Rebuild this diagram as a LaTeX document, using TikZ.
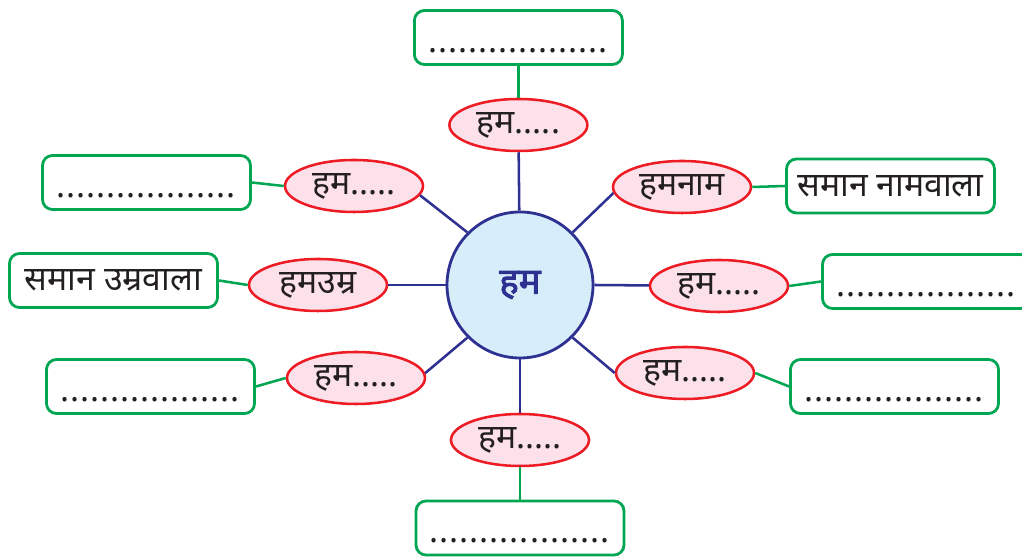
\documentclass[tikz,border=0pt]{standalone}
\usepackage{fontspec}
\setmainfont[Script=Devanagari]{Noto Sans}
\newfontfamily\hubfont[Script=Devanagari,FakeBold=2.5]{Noto Sans}
\usepackage{tikz}
\usetikzlibrary{shapes}

\definecolor{hubblue}{HTML}{2E3192}
\definecolor{hubfill}{HTML}{D7EDFA}
\definecolor{ellred}{HTML}{ED1C24}
\definecolor{ellpink}{HTML}{FCE0EA}
\definecolor{boxgreen}{HTML}{00A651}
\definecolor{inkgray}{HTML}{231F20}

% spaced row of dots for the blank boxes
\newcommand{\blankrow}{\foreach \k in {1,...,18}{.\kern0.7pt}}

\tikzset{
  hub/.style={circle,draw=hubblue,fill=hubfill,line width=2pt,minimum size=3.65cm,inner sep=0pt,text=hubblue,font=\hubfont\fontsize{26}{28}\selectfont},
  hamell/.style={ellipse,draw=ellred,fill=ellpink,line width=1.8pt,minimum width=3.45cm,minimum height=1.3cm,inner sep=0pt,text=inkgray,font=\fontsize{24}{26}\selectfont},
  ansbox/.style={rectangle,rounded corners=0.25cm,draw=boxgreen,line width=2pt,minimum width=5.2cm,minimum height=1.35cm,inner sep=0pt,text=inkgray,font=\fontsize{24}{26}\selectfont},
  dotbox/.style={ansbox,text height=1.05cm,text depth=0.3cm},
  spoke/.style={hubblue,line width=1.8pt},
  twig/.style={boxgreen,line width=1.8pt}
}

\begin{document}
\begin{tikzpicture}
  \clip (0,0) rectangle (25.55,13.95);

  % centre
  \node[hub] (hub) at (13.0,6.825) {हम};

  % hum... ellipses
  \node[hamell] (t)  at (12.96,10.825) {हम.....};
  \node[hamell] (ul) at (8.85,9.3)     {हम.....};
  \node[hamell] (ur) at (17.05,9.275)  {हमनाम};
  \node[hamell] (l)  at (7.95,6.825)   {हमउम्र};
  \node[hamell] (r)  at (17.975,6.8)   {हम.....};
  \node[hamell] (ll) at (8.9,4.5)      {हम.....};
  \node[hamell] (lr) at (17.125,4.625) {हम.....};
  \node[hamell] (b)  at (13.0,2.95)    {हम.....};

  % answer boxes
  \node[dotbox] (bt)  at (12.96,13.0125)  {\blankrow};
  \node[dotbox] (bul) at (3.6625,9.3875)  {\blankrow};
  \node[ansbox] (bur) at (22.2625,9.3)    {समान नामवाला};
  \node[ansbox] (bl)  at (2.8375,6.9375)  {समान उम्रवाला};
  \node[dotbox] (br)  at (23.1625,6.9125) {\blankrow};
  \node[dotbox] (bll) at (3.7625,4.2875)  {\blankrow};
  \node[dotbox] (blr) at (22.3625,4.2875) {\blankrow};
  \node[dotbox] (bb)  at (13.0,0.75)      {\blankrow};

  \draw[spoke] (hub) -- (t);
  \draw[spoke] (hub.135) -- (ul.-8);
  \draw[spoke] (hub.45) -- (ur.185);
  \draw[spoke] (hub) -- (l);
  \draw[spoke] (hub.east) -- (r);
  \draw[spoke] (hub.225) -- (ll.4);
  \draw[spoke] (hub.-45) -- (lr.west);
  \draw[spoke] (hub) -- (b);

  \draw[twig] (t) -- (bt);
  \draw[twig] (ul.west) -- (bul.east);
  \draw[twig] (ur.east) -- (bur.west);
  \draw[twig] (l.west) -- (bl.east);
  \draw[twig] (r.east) -- (br.west);
  \draw[twig] (ll.west) -- (bll.east);
  \draw[twig] (lr.east) -- (blr.west);
  \draw[twig] (b) -- (bb);

\end{tikzpicture}
\end{document}
